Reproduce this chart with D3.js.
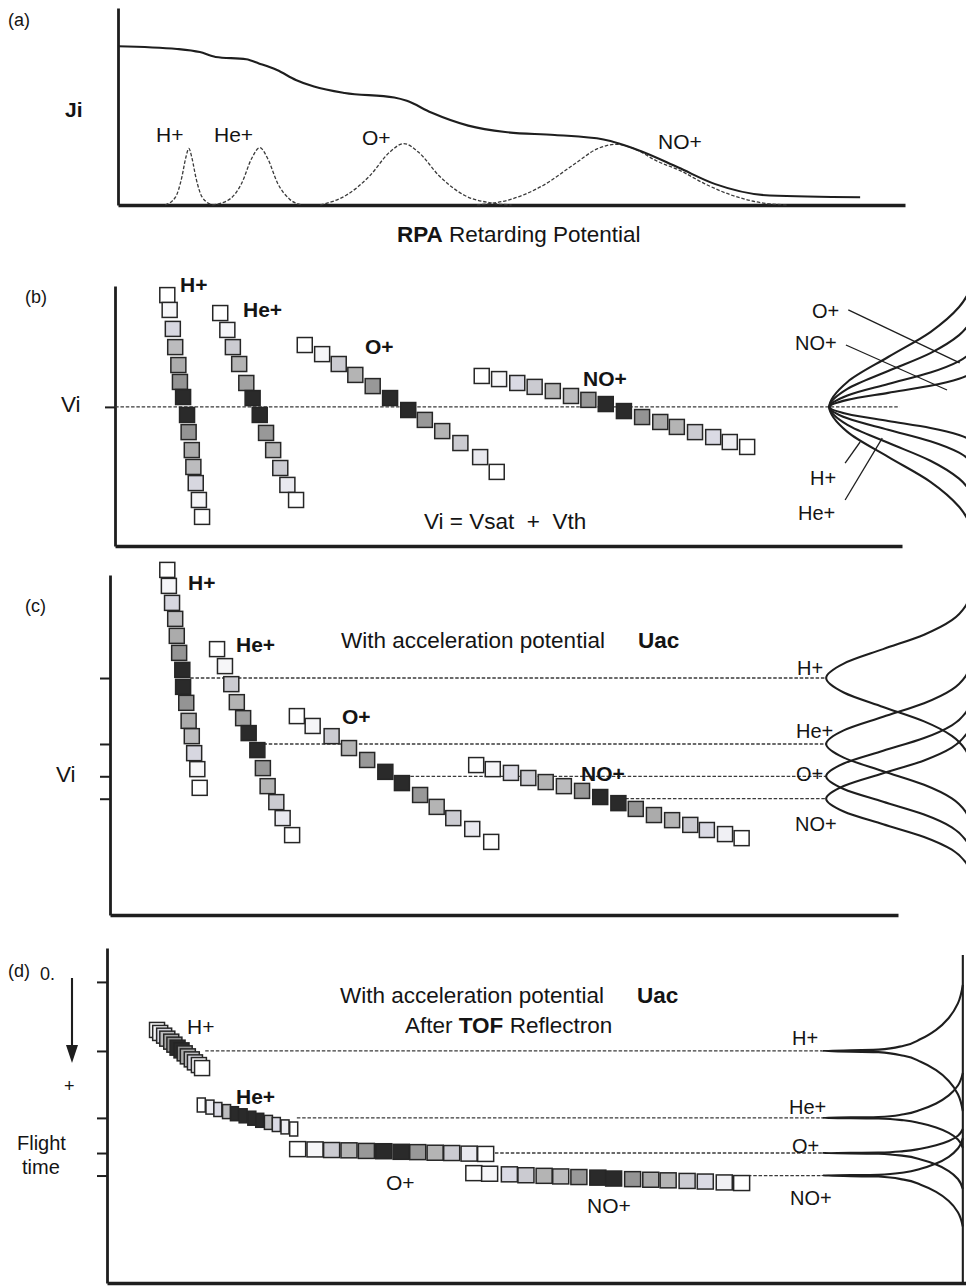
<!DOCTYPE html>
<html lang="en">
<head>
<meta charset="utf-8">
<title>Ion distributions: RPA and TOF</title>
<script src="https://cdn.jsdelivr.net/npm/d3@7/dist/d3.min.js"></script>
<style>
    body { margin: 0; background: #fff; }
    svg text { font-family: "Liberation Sans", Arial, Helvetica, sans-serif; fill: #141414; white-space: pre; }
    .axis .domain { stroke: #1e1e1e; stroke-width: 2.8px; }
    .axis .tick line { stroke: #1e1e1e; stroke-width: 2px; }
    .x-axis .domain { stroke-width: 3.4px; }
    .dash { fill: none; stroke: #3a3a3a; stroke-width: 1.3px; stroke-dasharray: 3.5 1.8; }
    .solid { fill: none; stroke: #1e1e1e; stroke-width: 2.1px; }
    .thin { fill: none; stroke: #1e1e1e; stroke-width: 1.3px; }
    .sq { stroke: #262626; stroke-width: 1.5px; }
    .lbl { font-size: 21px; }
    .big { font-size: 22.5px; }
    .bold { font-weight: bold; }
    .tag { font-size: 18px; }
    .side { font-size: 20px; }
</style>
</head>
<body>
<div id="chart"></div>
<script>
/* * * * * * * * * * * * * *
*          data            *
* * * * * * * * * * * * * */

let ions = ["H+", "He+", "O+", "NO+"];

// (a) total RPA current Ji against retarding potential (arbitrary units 0-100)
let rpaCurve = [[0, 81.4], [7.5, 80.0], [10.4, 78.4], [12.4, 75.9], [16.3, 74.7], [17.9, 72.6], [20.2, 69.2],
    [22.6, 64.1], [24.9, 60.7], [28.8, 57.4], [35.1, 55.1], [36.7, 53.4], [39.8, 47.4], [44.5, 40.7],
    [49.2, 37.4], [55.5, 35.9], [61.7, 33.6], [66.4, 27.7], [71.2, 19.2], [75.9, 10.7], [82.8, 4.9], [94.3, 4.0]];

// (a) single species contributions
let peakH = [[6.0, 0], [7.3, 4], [8.1, 14], [8.6, 24], [9.0, 29], [9.4, 24], [9.9, 14], [10.7, 4], [12.0, 0]];
let peakHe = [[12.0, 0], [14.2, 3], [15.7, 11], [17.0, 24], [18.0, 29.4], [19.0, 24], [20.3, 11], [21.8, 3], [23.4, 0]];
let peakO = [[25.7, 0], [29.0, 5], [32.0, 15], [34.5, 27], [36.3, 31.5], [38.2, 27], [40.8, 15], [44.0, 5], [47.5, 1], [50.0, 0]];
let peakNO = [[45.6, 0], [50.0, 3], [54.0, 10], [58.0, 21], [61.0, 29], [63.3, 31.1], [65.5, 29], [68.5, 22.5],
    [71.5, 17.5], [74.5, 11], [78.0, 5], [82.0, 1], [85.0, 0]];

// (b) velocity classes: [energy, velocity]
let bH = [[7.0, 96.5], [7.3, 90.8], [7.7, 83.5], [8.0, 76.5], [8.4, 69.6], [8.6, 63.1], [9.0, 57.3], [9.5, 50.4],
    [9.7, 43.8], [10.1, 36.9], [10.3, 30.4], [10.6, 24.2], [11.0, 17.7], [11.4, 11.2]];
let bHe = [[13.7, 89.6], [14.6, 83.1], [15.3, 76.5], [16.1, 70.0], [17.0, 62.7], [17.8, 56.9], [18.7, 50.4],
    [19.5, 43.5], [20.4, 36.9], [21.3, 30.0], [22.2, 23.5], [23.3, 17.7]];
let bO = [[24.4, 77.3], [26.6, 73.8], [28.7, 70.0], [30.8, 65.8], [33.0, 61.5], [35.2, 56.9], [37.5, 52.3],
    [39.6, 48.5], [41.8, 44.2], [44.1, 39.6], [46.6, 34.2], [48.7, 28.5]];
let bNO = [[46.8, 65.4], [49.0, 64.2], [51.3, 62.7], [53.5, 61.2], [55.8, 59.6], [58.1, 57.7], [60.3, 56.2],
    [62.5, 54.6], [64.8, 51.9], [67.1, 49.6], [69.4, 47.7], [71.5, 45.8], [73.8, 43.8], [76.1, 41.9],
    [78.2, 40.0], [80.4, 38.1]];
let viLevel = 53.5;

// (c) with acceleration potential: [energy, velocity]
let cH = [[7.0, 101.5], [7.2, 96.8], [7.6, 91.8], [8.0, 87.1], [8.2, 82.1], [8.5, 77.1], [8.9, 72.1], [9.0, 67.1],
    [9.4, 62.4], [9.7, 57.1], [10.1, 52.6], [10.4, 47.6], [10.8, 42.9], [11.1, 37.4]];
let cHe = [[13.3, 78.2], [14.3, 73.2], [15.1, 67.9], [15.8, 62.6], [16.6, 57.9], [17.3, 53.5], [18.4, 48.5],
    [19.1, 43.2], [19.7, 37.9], [20.8, 33.2], [21.6, 28.5], [22.8, 23.5]];
let cO = [[23.4, 58.5], [25.4, 55.6], [27.8, 52.6], [30.0, 49.1], [32.3, 45.6], [34.6, 42.1], [36.7, 38.8],
    [39.0, 35.3], [41.1, 31.8], [43.2, 28.5], [45.6, 25.3], [48.0, 21.5]];
let cNO = [[46.1, 44.1], [48.2, 42.9], [50.5, 41.8], [52.7, 40.3], [54.9, 39.1], [57.2, 37.9], [59.5, 36.5],
    [61.8, 34.7], [64.1, 32.9], [66.3, 31.2], [68.6, 29.4], [70.9, 27.9], [73.2, 26.5], [75.3, 25.0],
    [77.6, 23.8], [79.7, 22.6]];
let cLevels = [69.7, 50.3, 40.8, 34.2];
let cLineStart = [9.9, 18.5, 37.1, 64.3];

// (d) after the TOF reflectron: [energy, flight time]
let dH = [[5.7, 16.0], [6.1, 17.0], [6.6, 17.9], [7.0, 18.9], [7.5, 19.9], [7.9, 20.9], [8.3, 21.9], [8.8, 22.8],
    [9.2, 23.8], [9.6, 24.8], [10.1, 25.8], [10.5, 26.8], [11.0, 27.7], [11.4, 28.7]];
let dHe = [[11.3, 41.0], [12.4, 41.7], [13.4, 42.5], [14.5, 43.2], [15.5, 43.9], [16.6, 44.6], [17.7, 45.4],
    [18.7, 46.1], [19.8, 46.8], [20.8, 47.5], [21.9, 48.3], [23.0, 49.0]];
let dO = [[23.5, 55.7], [25.7, 55.8], [27.8, 56.0], [30.0, 56.1], [32.2, 56.3], [34.4, 56.4], [36.6, 56.6],
    [38.7, 56.7], [40.9, 56.9], [43.0, 57.0], [45.2, 57.2], [47.3, 57.3]];
let dNO = [[45.8, 63.7], [47.8, 63.9], [50.3, 64.1], [52.4, 64.4], [54.7, 64.6], [56.8, 64.8], [59.1, 65.0],
    [61.5, 65.2], [63.5, 65.5], [65.9, 65.7], [68.2, 65.9], [70.4, 66.1], [72.8, 66.3], [75.1, 66.5],
    [77.5, 66.8], [79.7, 67.0]];
let dLevels = [23, 45.3, 57, 64.5];
let dLineStart = [11.8, 23.4, 47.8, 80.5];

// grey level of each velocity class (0 white .. 1 black)
let shadeH = [0, 0.05, 0.22, 0.4, 0.5, 0.62, 1, 1, 0.62, 0.5, 0.4, 0.22, 0.05, 0];
let shadeHe = [0, 0.05, 0.3, 0.45, 0.55, 1, 1, 0.6, 0.45, 0.3, 0.12, 0];
let shadeO = [0, 0.05, 0.3, 0.45, 0.6, 1, 1, 0.6, 0.45, 0.3, 0.12, 0];
let shadeNO = [0, 0.05, 0.2, 0.3, 0.45, 0.4, 0.6, 1, 1, 0.62, 0.5, 0.45, 0.3, 0.2, 0.08, 0];
let shadeHeD = [0, 0.1, 0.2, 0.4, 1, 1, 1, 1, 0.4, 0.2, 0.1, 0];

// detector profiles on the right: [offset in widths, relative height]
let gaussShape = [[0, 1], [0.5, 0.88], [1, 0.61], [1.5, 0.33], [2, 0.14], [2.5, 0.045], [3, 0.011], [3.5, 0.002]];
let sharpShape = [[0, 1], [0.02, 0.6], [0.08, 0.42], [0.18, 0.3], [0.32, 0.19], [0.5, 0.1], [0.72, 0.035], [1, 0]];
let bSpread = [19.2, 13.8, 8.8, 5.4];
let cSpread = [8.5, 8.0, 7.5, 7.5];
let dSpreadUp = [22, 15, 8, 12.5];
let dSpreadDown = [20, 10, 12, 17];


/* * * * * * * * * * * * * *
*         drawing          *
* * * * * * * * * * * * * */

let svg = d3.select("#chart").append("svg")
    .attr("width", 966)
    .attr("height", 1287);

// energy axis shared by panels b-d
let xE = d3.scaleLinear().domain([0, 100]).range([112, 902]);

let shadeColor = d3.scaleLinear()
    .domain([0, 0.2, 0.45, 0.65, 1])
    .range(["#ffffff", "#dadae4", "#b4b4b4", "#8e8e8e", "#2a2a2a"]);

function frame(yScale, x0, x1, yBase, ticks) {
    let fx = d3.scaleLinear().range([x0, x1]);
    svg.append("g")
        .attr("class", "axis x-axis")
        .attr("transform", `translate(0, ${yBase})`)
        .call(d3.axisBottom(fx).tickValues([]).tickSizeOuter(0));
    svg.append("g")
        .attr("class", "axis y-axis")
        .attr("transform", `translate(${x0}, 0)`)
        .call(d3.axisLeft(yScale).tickValues(ticks).tickSize(10).tickSizeOuter(0).tickFormat(""));
}

function label(x, y, str, cls) {
    return svg.append("text")
        .attr("class", cls || "lbl")
        .attr("x", x)
        .attr("y", y)
        .text(str);
}

function squares(data, shades, yScale, w, h) {
    svg.append("g").selectAll("rect")
        .data(data.map((d, i) => ({e: d[0], v: d[1], s: shades[i]})))
        .enter().append("rect")
        .attr("class", "sq")
        .attr("x", d => xE(d.e) - w / 2)
        .attr("y", d => yScale(d.v) - h / 2)
        .attr("width", w)
        .attr("height", h)
        .attr("fill", d => shadeColor(d.s));
}

function level(yScale, e0, e1, v) {
    svg.append("line")
        .attr("class", "dash")
        .attr("x1", xE(e0)).attr("x2", xE(e1))
        .attr("y1", yScale(v)).attr("y2", yScale(v));
}

// a sideways distribution; dir = 1 when the y value grows upwards on screen
function bell(yScale, depth, center, up, down, shape, dir) {
    let upper = shape.slice().reverse().map(p => [p[1], center + dir * p[0] * up]);
    let lower = shape.slice(1).map(p => [p[1], center - dir * p[0] * down]);
    let line = d3.line()
        .x(d => depth(d[0]))
        .y(d => yScale(d[1]))
        .curve(d3.curveMonotoneY);
    svg.append("path")
        .attr("class", "solid")
        .attr("d", line(upper.concat(lower)));
}


// ---------- (a) RPA ----------
let xA = d3.scaleLinear().domain([0, 100]).range([118, 905]);
let yA = d3.scaleLinear().domain([0, 101]).range([205, 8]);
frame(yA, 118, 905, 205, []);

let lineA = d3.line()
    .x(d => xA(d[0]))
    .y(d => yA(d[1]))
    .curve(d3.curveMonotoneX);

[peakH, peakHe, peakO, peakNO].forEach(p => {
    svg.append("path").attr("class", "dash").attr("d", lineA(p));
});
svg.append("path").attr("class", "solid").attr("d", lineA(rpaCurve));

label(8, 26, "(a)", "tag");
label(65, 117, "Ji", "lbl bold");
label(156, 142, "H+");
label(214, 142, "He+");
label(362, 145, "O+");
label(658, 149, "NO+");
let rpa = label(397, 242, "", "big");
rpa.append("tspan").attr("font-weight", "bold").text("RPA");
rpa.append("tspan").text(" Retarding Potential");


// ---------- (b) velocity distribution ----------
let yB = d3.scaleLinear().domain([0, 100]).range([546, 286]);
frame(yB, 115, 902, 546, [viLevel]);
level(yB, 0.4, 99.7, viLevel);

let depthB = d3.scaleLinear().domain([0, 1]).range([xE(109.9), xE(90.8)]);
bSpread.forEach(s => bell(yB, depthB, viLevel, s, s, gaussShape, 1));

squares(bH, shadeH, yB, 15, 15);
squares(bHe, shadeHe, yB, 15, 15);
squares(bO, shadeO, yB, 15, 15);
squares(bNO, shadeNO, yB, 15, 15);

// leader lines of the right hand labels
[[[93.2, 90.8], [107.3, 70.4]], [[92.9, 77.3], [105.7, 60.0]],
 [[92.8, 31.9], [94.7, 40.0]], [[92.8, 17.7], [97.5, 41.5]]].forEach(l => {
    svg.append("line").attr("class", "thin")
        .attr("x1", xE(l[0][0])).attr("y1", yB(l[0][1]))
        .attr("x2", xE(l[1][0])).attr("y2", yB(l[1][1]));
});

label(25, 303, "(b)", "tag");
label(180, 292, ions[0], "lbl bold");
label(243, 317, ions[1], "lbl bold");
label(365, 354, ions[2], "lbl bold");
label(583, 386, ions[3], "lbl bold");
label(61, 412, "Vi", "big");
label(424, 529, "Vi = Vsat  +  Vth", "big");
label(812, 318, "O+", "side");
label(795, 350, "NO+", "side");
label(810, 485, "H+", "side");
label(798, 520, "He+", "side");


// ---------- (c) with acceleration potential ----------
let yC = d3.scaleLinear().domain([0, 100]).range([915, 575]);
frame(yC, 110, 898, 915, cLevels);
cLevels.forEach((v, i) => level(yC, cLineStart[i], 90.4, v));

let depthC = d3.scaleLinear().domain([0, 1]).range([xE(108.9), xE(90.4)]);
cLevels.forEach((v, i) => bell(yC, depthC, v, cSpread[i], cSpread[i], gaussShape, 1));

squares(cH, shadeH, yC, 15, 15);
squares(cHe, shadeHe, yC, 15, 15);
squares(cO, shadeO, yC, 15, 15);
squares(cNO, shadeNO, yC, 15, 15);

label(25, 612, "(c)", "tag");
label(188, 590, ions[0], "lbl bold");
label(236, 652, ions[1], "lbl bold");
label(342, 724, ions[2], "lbl bold");
label(581, 781, ions[3], "lbl bold");
label(56, 782, "Vi", "big");
label(341, 648, "With acceleration potential", "big");
label(638, 648, "Uac", "big bold");
label(797, 675, "H+", "side");
label(796, 738, "He+", "side");
label(796, 781, "O+", "side");
label(795, 831, "NO+", "side");


// ---------- (d) after TOF reflectron ----------
let yD = d3.scaleLinear().domain([-11.3, 100.3]).range([948, 1283]);
frame(yD, 107, 966, 1283, [0].concat(dLevels));
dLevels.forEach((t, i) => level(yD, dLineStart[i], 89.9, t));

let depthD = d3.scaleLinear().domain([0, 1]).range([xE(107.7), xE(89.9)]);
dLevels.forEach((t, i) => bell(yD, depthD, t, dSpreadUp[i], dSpreadDown[i], sharpShape, -1));
svg.append("line").attr("class", "solid")
    .attr("x1", xE(107.7)).attr("x2", xE(107.7))
    .attr("y1", yD(-9)).attr("y2", yD(100.3));

squares(dH, shadeH, yD, 15, 15);
squares(dHe, shadeHeD, yD, 8, 14);
squares(dO, shadeO, yD, 16, 15);
squares(dNO, shadeNO, yD, 16, 15);

// flight time arrow
svg.append("line").attr("class", "solid")
    .attr("x1", 72).attr("x2", 72)
    .attr("y1", yD(-1.3)).attr("y2", yD(22));
svg.append("path")
    .attr("fill", "#1e1e1e")
    .attr("d", `M66,${yD(21)} L78,${yD(21)} L72,${yD(27)} Z`);

label(8, 977, "(d)", "tag");
label(40, 980, "0.", "tag");
label(64, 1092, "+", "tag");
label(17, 1150, "Flight", "side");
label(22, 1174, "time", "side");
label(340, 1003, "With acceleration potential", "big");
label(637, 1003, "Uac", "big bold");
let tof = label(405, 1033, "", "big");
tof.append("tspan").text("After ");
tof.append("tspan").attr("font-weight", "bold").text("TOF");
tof.append("tspan").text(" Reflectron");
label(187, 1034, ions[0]);
label(236, 1104, ions[1], "lbl bold");
label(386, 1190, ions[2]);
label(587, 1213, ions[3]);
label(792, 1045, "H+", "side");
label(789, 1114, "He+", "side");
label(792, 1153, "O+", "side");
label(790, 1205, "NO+", "side");
</script>
</body>
</html>
